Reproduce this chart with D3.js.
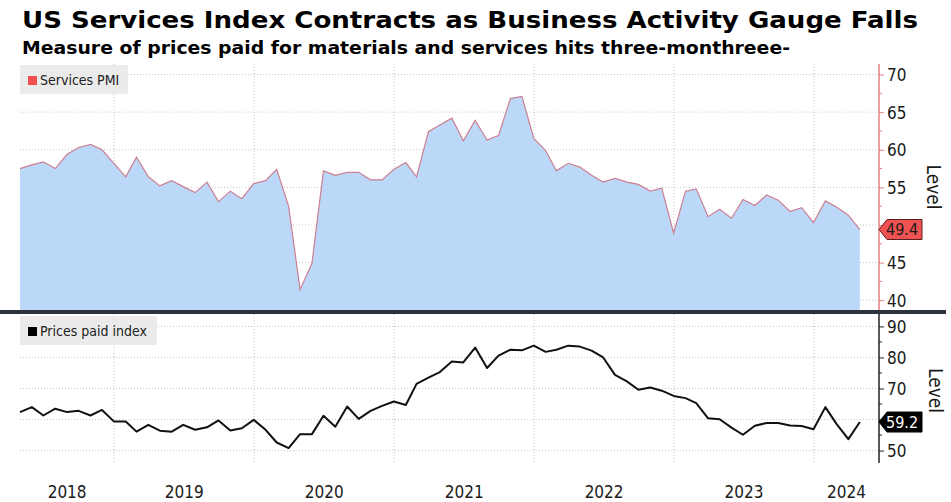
<!DOCTYPE html>
<html>
<head>
<meta charset="UTF-8">
<script src="https://d3js.org/d3.v7.min.js"></script>
<style>
  body { margin: 0; background: #fff; }
  text { font-family: "DejaVu Sans Condensed", "DejaVu Sans", sans-serif; fill: #1a1a1a; }
</style>
</head>
<body>
<svg id="canvas"></svg>
<script>

width = 951;
height = 502;

// monthly readings, Apr 2018 .. Apr 2024 (plotted at month end)
firstMonth = new Date(2018, 3, 1);
pmi = [57.5, 58.0, 58.4, 57.5, 59.4, 60.3, 60.7, 60.0, 58.2,
       56.4, 59.0, 56.4, 55.2, 55.9, 55.1, 54.3, 55.7, 53.1, 54.5, 53.5, 55.5,
       55.9, 57.4, 52.5, 41.4, 44.9, 57.2, 56.6, 57.0, 57.0, 56.0, 56.0, 57.4,
       58.3, 56.4, 62.4, 63.3, 64.2, 61.2, 63.9, 61.3, 61.9, 66.8, 67.1, 61.5,
       59.9, 57.2, 58.2, 57.7, 56.6, 55.7, 56.2, 55.7, 55.4, 54.5, 54.9, 48.9,
       54.5, 54.8, 51.1, 52.1, 50.9, 53.4, 52.6, 54.0, 53.3, 51.8, 52.3, 50.3,
       53.2, 52.4, 51.3, 49.4];
prices = [62.4, 64.0, 61.3, 63.5, 62.4, 62.8, 61.3, 63.1, 59.4,
          59.4, 56.1, 58.3, 56.4, 56.1, 58.3, 56.7, 57.5, 59.7, 56.5, 57.2, 59.9,
          56.7, 52.6, 50.8, 55.3, 55.3, 61.2, 57.7, 64.2, 60.2, 62.8, 64.4, 65.8,
          64.7, 71.5, 73.5, 75.3, 78.7, 78.4, 83.2, 76.6, 80.6, 82.5, 82.3, 83.8,
          81.8, 82.5, 83.8, 83.5, 82.2, 80.0, 74.4, 72.3, 69.6, 70.3, 69.3, 67.6,
          66.9, 65.3, 60.4, 60.1, 57.4, 55.1, 58.0, 58.9, 58.9, 58.1, 57.9, 56.9,
          64.0, 58.6, 53.7, 59.2];
years = ["2018", "2019", "2020", "2021", "2022", "2023", "2024"];
pmiTicks = [40, 45, 50, 55, 60, 65, 70];
pricesTicks = [50, 60, 70, 80, 90];

title = "US Services Index Contracts as Business Activity Gauge Falls";
subtitle = "Measure of prices paid for materials and services hits three-monthreee-";

months = d3.timeMonth.range(firstMonth, d3.timeMonth.offset(firstMonth, pmi.length));
// bloomberg puts monthly points on the last day of the month
dates = months.map( (m) => d3.timeDay.offset(d3.timeMonth.offset(m, 1), -1) );

left = 20;
right = 879;
top1 = 64; bottom1 = 310;
top2 = 314; bottom2 = 463;

x = d3.scaleTime()
    .domain([new Date(2018, 3, 30), new Date(2024, 5, 19)])
    .range([left, right]);

y1 = d3.scaleLinear().domain([38.7, 71.4]).range([bottom1, top1]);
y2 = d3.scaleLinear().domain([46, 94]).range([bottom2, top2]);

canvas = d3.select("#canvas")
    .attr("width", width)
    .attr("height", height);

// titles
canvas.append("text")
    .attr("x", 22).attr("y", 28)
    .attr("textLength", 896).attr("lengthAdjust", "spacingAndGlyphs")
    .attr("style", "font-family:'DejaVu Sans'; font-weight:bold; font-size:23px; fill:#000")
    .text(title);

canvas.append("text")
    .attr("x", 22).attr("y", 54)
    .attr("textLength", 768).attr("lengthAdjust", "spacingAndGlyphs")
    .attr("style", "font-family:'DejaVu Sans'; font-weight:bold; font-size:17.5px; fill:#000")
    .text(subtitle);

yearStarts = years.map( (y) => new Date(+y, 0, 1) );

function grid(g, y, ticks, top, bottom) {
    g.selectAll(".h").data(ticks).enter().append("line")
        .attr("x1", left).attr("x2", right)
        .attr("y1", y).attr("y2", y)
        .attr("style", "stroke:#c8c8c8; stroke-dasharray:1,2;");
    g.selectAll(".v").data(yearStarts.slice(1)).enter().append("line")
        .attr("x1", x).attr("x2", x)
        .attr("y1", top).attr("y2", bottom)
        .attr("style", "stroke:#c8c8c8; stroke-dasharray:1,2;");
}

// ---- top panel: services PMI
g1 = canvas.append("g");
grid(g1, y1, pmiTicks, top1, bottom1);

area = d3.area()
    .x( (d, i) => x(dates[i]) )
    .y0(bottom1)
    .y1( (d) => y1(d) );

g1.append("path")
    .datum(pmi)
    .attr("d", area)
    .attr("style", "fill:#bcd8f8;");

g1.append("path")
    .datum(pmi)
    .attr("d", d3.line().x( (d, i) => x(dates[i]) ).y( (d) => y1(d) ))
    .attr("style", "fill:none; stroke:#cc7f92; stroke-width:1.2;");

// ---- bottom panel: prices paid
g2 = canvas.append("g");
grid(g2, y2, pricesTicks, top2, bottom2);

g2.append("path")
    .datum(prices)
    .attr("d", d3.line().x( (d, i) => x(dates[i]) ).y( (d) => y2(d) ))
    .attr("style", "fill:none; stroke:#111; stroke-width:2; stroke-linejoin:round;");

// right hand axes; labels hidden under the last value tag are dropped
lastPmi = pmi[pmi.length - 1];
lastPrices = prices[prices.length - 1];

ax1 = canvas.append("g")
    .attr("transform", "translate(" + right + ",0)")
    .call(d3.axisRight(y1).tickValues(pmiTicks).tickSize(5).tickPadding(3));
ax1.select(".domain").remove();
ax1.selectAll("line").attr("stroke", "#e88080");
ax1.selectAll("text").attr("style", "font-size:17px; fill:#1a1a1a").attr("dy", "0.35em")
    .filter( (d) => Math.abs(y1(d) - y1(lastPmi)) < 16 ).remove();
ax1.append("g").selectAll("line")
    .data(pmiTicks.slice(0, -1).map( (d) => d + 2.5 ))
    .enter().append("line")
    .attr("x2", 3).attr("y1", y1).attr("y2", y1)
    .attr("stroke", "#e88080");
canvas.append("line")
    .attr("x1", right).attr("x2", right).attr("y1", top1).attr("y2", bottom1)
    .attr("style", "stroke:#e88080; stroke-width:1.5;");

ax2 = canvas.append("g")
    .attr("transform", "translate(" + right + ",0)")
    .call(d3.axisRight(y2).tickValues(pricesTicks).tickSize(5).tickPadding(3));
ax2.select(".domain").remove();
ax2.selectAll("line").attr("stroke", "#222");
ax2.selectAll("text").attr("style", "font-size:17px; fill:#1a1a1a").attr("dy", "0.35em")
    .filter( (d) => Math.abs(y2(d) - y2(lastPrices)) < 16 ).remove();
ax2.append("g").selectAll("line")
    .data(pricesTicks.slice(1).map( (d) => d - 5 ))
    .enter().append("line")
    .attr("x2", 3).attr("y1", y2).attr("y2", y2)
    .attr("stroke", "#222");
canvas.append("line")
    .attr("x1", right).attr("x2", right).attr("y1", top2).attr("y2", bottom2)
    .attr("style", "stroke:#222; stroke-width:1.5;");

// "Level" titles
canvas.append("text")
    .attr("transform", "translate(927," + ((top1 + bottom1) / 2) + ") rotate(90)")
    .attr("text-anchor", "middle")
    .attr("style", "font-size:19px; fill:#1a1a1a")
    .text("Level");
canvas.append("text")
    .attr("transform", "translate(929," + ((top2 + bottom2) / 2 + 2) + ") rotate(90)")
    .attr("text-anchor", "middle")
    .attr("style", "font-size:19px; fill:#1a1a1a")
    .text("Level");

// last value tags
function tag(yv, v, fill, stroke, color) {
    g = canvas.append("g").attr("transform", "translate(" + right + "," + yv + ")");
    g.append("path")
        .attr("d", "M0,0 L8,-10 L43,-10 L43,10 L8,10 Z")
        .attr("style", "fill:" + fill + "; stroke:" + stroke + "; stroke-width:1;");
    g.append("text")
        .attr("x", 7).attr("dy", "0.36em")
        .attr("style", "font-size:16px; fill:" + color)
        .text(v.toFixed(1));
}
tag(y1(lastPmi), lastPmi, "#f05252", "#5a2020", "#1a1a1a");
tag(y2(lastPrices), lastPrices, "#000", "#000", "#fff");

// panel separator
canvas.append("line")
    .attr("x1", 0).attr("x2", 946).attr("y1", 312).attr("y2", 312)
    .attr("style", "stroke:#2b323b; stroke-width:4;");

// legends
function legend(y0, w, label, color) {
    g = canvas.append("g");
    g.append("rect")
        .attr("x", 20).attr("y", y0).attr("width", w).attr("height", 29)
        .attr("style", "fill:#ebebeb;");
    g.append("rect")
        .attr("x", 28).attr("y", y0 + 11).attr("width", 9).attr("height", 9)
        .attr("style", "fill:" + color);
    g.append("text")
        .attr("x", 40).attr("y", y0 + 20)
        .attr("style", "font-size:14px; fill:#222")
        .text(label);
}
legend(65, 108, "Services PMI", "#f05050");
legend(316, 137, "Prices paid index", "#000");

// year labels, centred in the visible part of each year
canvas.append("g").selectAll("text")
    .data(years)
    .enter().append("text")
    .attr("x", (d) => {
        a = Math.max(x(new Date(+d, 0, 1)), left);
        b = Math.min(x(new Date(+d + 1, 0, 1)), right);
        return (a + b) / 2;
    })
    .attr("y", 498)
    .attr("text-anchor", "middle")
    .attr("style", "font-size:17px; fill:#1a1a1a")
    .text( (d) => d );

</script>
</body>
</html>
